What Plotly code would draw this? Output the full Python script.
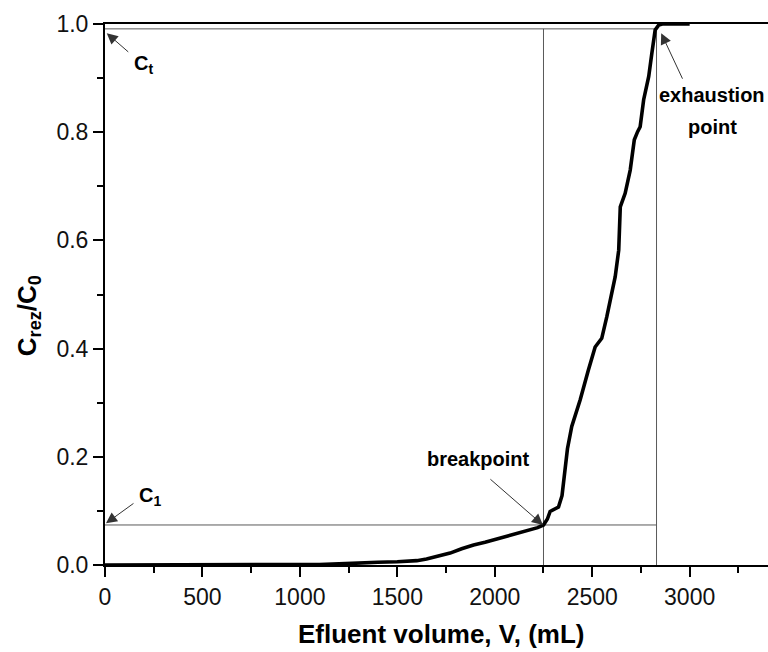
import plotly.graph_objects as go

# Breakthrough curve: effluent volume (mL) vs relative concentration C_rez/C_0
volume_ml = [0, 500, 1000, 1100, 1200, 1300, 1400, 1500, 1600, 1650, 1700, 1771,
             1830, 1891, 1950, 2028, 2100, 2165, 2220, 2250, 2270, 2284, 2327,
             2345, 2360, 2373, 2395, 2438, 2480, 2515, 2549, 2575, 2618, 2636,
             2644, 2669, 2695, 2716, 2733, 2746, 2764, 2790, 2806, 2823, 2841,
             2860, 3000]
c_ratio = [0.0, 0.0, 0.0, 0.001, 0.002, 0.004, 0.005, 0.006, 0.008, 0.011, 0.015,
           0.022, 0.030, 0.037, 0.042, 0.050, 0.057, 0.064, 0.069, 0.074, 0.085,
           0.099, 0.107, 0.128, 0.170, 0.215, 0.256, 0.305, 0.360, 0.403, 0.419,
           0.459, 0.533, 0.582, 0.662, 0.687, 0.730, 0.786, 0.801, 0.810, 0.860,
           0.903, 0.946, 0.989, 0.998, 1.0, 1.0]

# Characteristic points
breakpoint_v = 2250
exhaustion_v = 2830
c_1 = 0.074
c_t = 0.991

x_ticks = [0, 500, 1000, 1500, 2000, 2500, 3000]
y_ticks = [0.0, 0.2, 0.4, 0.6, 0.8, 1.0]

FONT = "Arial, Liberation Sans, sans-serif"
GUIDE = dict(color="#5a5a5a", width=1)

fig = go.Figure()

# Guide lines through the breakpoint and exhaustion point
fig.add_trace(go.Scatter(x=[0, exhaustion_v], y=[c_t, c_t], mode="lines", line=GUIDE,
                         hoverinfo="skip"))
fig.add_trace(go.Scatter(x=[0, exhaustion_v], y=[c_1, c_1], mode="lines", line=GUIDE,
                         hoverinfo="skip"))
fig.add_trace(go.Scatter(x=[breakpoint_v, breakpoint_v], y=[0, c_t], mode="lines",
                         line=GUIDE, hoverinfo="skip"))
fig.add_trace(go.Scatter(x=[exhaustion_v, exhaustion_v], y=[0, c_t], mode="lines",
                         line=GUIDE, hoverinfo="skip"))

# Breakthrough curve
fig.add_trace(go.Scatter(x=volume_ml, y=c_ratio, mode="lines",
                         line=dict(color="black", width=3.6)))

ann_font = dict(family=FONT, size=20, color="black")
arrow = dict(showarrow=True, arrowhead=2, arrowsize=2.2, arrowwidth=1,
             arrowcolor="#333333", text="", xref="x", yref="y")

annotations = [
    # arrows (tip at x, y; tail offset ax, ay in pixels)
    dict(x=9, y=0.983, ax=23, ay=20, **arrow),
    dict(x=5, y=0.077, ax=29, ay=-21, **arrow),
    dict(x=2247, y=0.074, ax=-54, ay=-47, **arrow),
    dict(x=2854, y=0.983, ax=22, ay=47, **arrow),
    # labels
    dict(x=138, y=0.926, text="<b>C<sub>t</sub></b>", showarrow=False,
         xanchor="left", yanchor="middle", font=ann_font),
    dict(x=162, y=0.1275, text="<b>C<sub>1</sub></b>", showarrow=False,
         xanchor="left", yanchor="middle", font=ann_font),
    dict(x=1915, y=0.196, text="<b>breakpoint</b>", showarrow=False,
         xanchor="center", yanchor="middle", font=ann_font),
    dict(x=3117, y=0.869, text="<b>exhaustion</b>", showarrow=False,
         xanchor="center", yanchor="middle", font=ann_font),
    dict(x=3119, y=0.809, text="<b>point</b>", showarrow=False,
         xanchor="center", yanchor="middle", font=ann_font),
    # axis titles
    dict(x=0.5075, y=-0.1275, xref="paper", yref="paper",
         text="<b>Efluent volume, V, (mL)</b>", showarrow=False,
         xanchor="center", yanchor="middle",
         font=dict(family=FONT, size=26, color="black")),
    dict(x=-0.116, y=0.46, xref="paper", yref="paper",
         text="<b>C<sub>rez</sub>/C<sub>0</sub></b>", showarrow=False,
         textangle=-90, xanchor="center", yanchor="middle",
         font=dict(family=FONT, size=26, color="black")),
]
for a in annotations:
    fig.add_annotation(**a)

fig.update_layout(
    width=768, height=652,
    margin=dict(l=105, r=0, t=24, b=87),
    paper_bgcolor="white", plot_bgcolor="white",
    showlegend=False,
    font=dict(family=FONT, color="black"),
)
fig.update_xaxes(
    range=[0, 3402], tickvals=x_ticks, ticktext=[str(v) for v in x_ticks],
    showgrid=False, zeroline=False,
    showline=True, linecolor="black", linewidth=2, mirror=True,
    ticks="outside", ticklen=10, tickwidth=1.5, tickcolor="black",
    tickfont=dict(family=FONT, size=23, color="#111111"),
    minor=dict(dtick=250, tick0=0, ticks="outside", ticklen=6, tickwidth=1.5,
               tickcolor="black", showgrid=False),
)
fig.update_yaxes(
    range=[0, 1], tickvals=y_ticks, ticktext=[f"{v:.1f}" for v in y_ticks],
    showgrid=False, zeroline=False,
    showline=True, linecolor="black", linewidth=2,
    ticks="outside", ticklen=10, tickwidth=1.5, tickcolor="black",
    tickfont=dict(family=FONT, size=23, color="#111111"),
    minor=dict(dtick=0.1, tick0=0, ticks="outside", ticklen=6, tickwidth=1.5,
               tickcolor="black", showgrid=False),
)

fig.write_html("out.html")
